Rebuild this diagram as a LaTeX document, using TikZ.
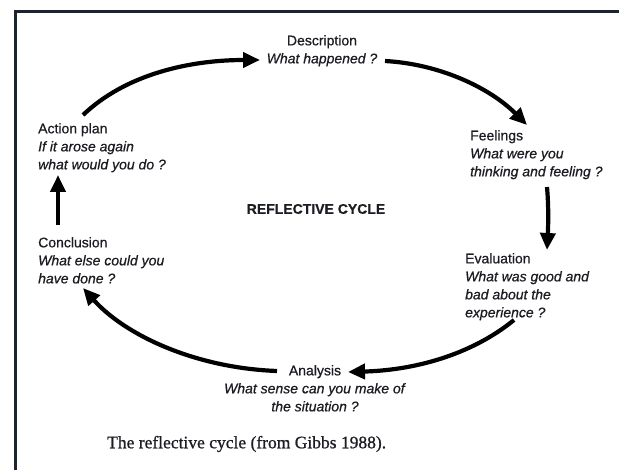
\documentclass[tikz,border=0pt]{standalone}
\usepackage{fontspec}
\setmainfont{Liberation Sans}[FakeBold=0.6]
\newfontfamily\titlefont{Liberation Sans Bold}[FakeBold=0.4]
\newfontfamily\capfont{Liberation Serif}[FakeBold=0.8]
\usetikzlibrary{arrows.meta}
\definecolor{framec}{HTML}{1E2330}
\definecolor{txt}{HTML}{1C1C22}
\begin{document}
\begin{tikzpicture}[x=1pt,y=-1pt,
  lbl/.style={inner sep=0pt, align=left, text=txt, font=\fontsize{14}{18}\selectfont},
  clbl/.style={lbl, align=center},
  cyc/.style={line width=4.2pt, -{Triangle[length=17pt,width=15pt]}, draw=black},
]
\useasboundingbox (0,0) rectangle (619,470);
\fill[white] (0,0) rectangle (619,470);
\draw[framec, line width=3pt] (15,475) -- (15,12) -- (625,12);

\node[clbl, anchor=north] (desc) at (322,35) {Description\\\textit{What happened ?}};
\node[lbl, anchor=north west] (feel) at (470,130) {Feelings\\\textit{What were you}\\\textit{thinking and feeling ?}};
\node[lbl, anchor=north west] (eval) at (465,253) {Evaluation\\\textit{What was good and}\\\textit{bad about the}\\\textit{experience ?}};
\node[clbl, anchor=north] (anal) at (315,365) {Analysis\\\textit{What sense can you make of}\\\textit{the situation ?}};
\node[lbl, anchor=north west] (concl) at (38,237) {Conclusion\\\textit{What else could you}\\\textit{have done ?}};
\node[lbl, anchor=north west] (act) at (38,123) {Action plan\\\textit{If it arose again}\\\textit{what would you do ?}};
\node[inner sep=0pt, text=txt, font=\titlefont\fontsize{14}{16}\selectfont] (title) at (316,209) {REFLECTIVE CYCLE};
\node[inner sep=0pt, anchor=west, text=txt, font=\capfont\fontsize{17.5}{20}\selectfont] (cap) at (107,444) {The reflective cycle (from Gibbs 1988).};

\coordinate (a1s) at (83,115);
\coordinate (a1e) at (260,60);
\coordinate (a2s) at (385,61);
\coordinate (a2e) at (527,125);
\coordinate (a3s) at (547,187);
\coordinate (a3e) at (547,250);
\coordinate (a4s) at (514,320);
\coordinate (a4e) at (348,372);
\coordinate (a5s) at (277,371);
\coordinate (a5e) at (83,288);
\coordinate (a6s) at (58,225);
\coordinate (a6e) at (58,175);

\draw[cyc] (a1s) .. controls (126,74) and (190,60) .. (a1e);
\draw[cyc] (a2s) .. controls (440,64) and (490,88) .. (a2e);
\draw[cyc] (a3s) .. controls (549,210) and (548,230) .. (a3e);
\draw[cyc] (a4s) .. controls (475,352) and (420,370) .. (a4e);
\draw[cyc] (a5s) .. controls (195,368) and (125,335) .. (a5e);
\draw[cyc] (a6s) -- (a6e);
\end{tikzpicture}
\end{document}
